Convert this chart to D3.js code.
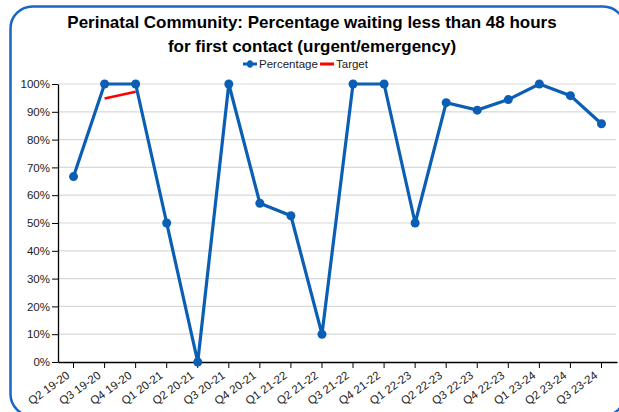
<!DOCTYPE html>
<html><head><meta charset="utf-8">
<script src="https://cdn.jsdelivr.net/npm/d3@7/dist/d3.min.js"></script>
<style>body{margin:0;background:#fff;}svg{display:block;font-family:"Liberation Sans",Arial,sans-serif;}</style>
</head><body><svg id="c" width="619" height="412"></svg>
<script>
const categories = ["Q2 19-20","Q3 19-20","Q4 19-20","Q1 20-21","Q2 20-21","Q3 20-21","Q4 20-21","Q1 21-22","Q2 21-22","Q3 21-22","Q4 21-22","Q1 22-23","Q2 22-23","Q3 22-23","Q4 22-23","Q1 23-24","Q2 23-24","Q3 23-24"];
const percentage = [66.7,100,100,50,0,100,57.1,52.6,10,100,100,50,93.3,90.6,94.4,100,95.8,85.7];
const target = [null,94.8,97.2,null,null,null,null,null,null,null,null,null,null,null,null,null,null,null];
const yTicks = [0,10,20,30,40,50,60,70,80,90,100];
const titleLines = ["Perinatal Community: Percentage waiting less than 48 hours","for first contact (urgent/emergency)"];

const svg = d3.select("#c");
const blue = "#0a5fb4", red = "#ff0000";
// border
svg.append("rect").attr("x",10.5).attr("y",6.5).attr("width",614.5).attr("height",409.5)
  .attr("rx",22).attr("fill","none").attr("stroke","#1a66c4").attr("stroke-width",2.5);

svg.append("g").selectAll("text").data(titleLines).join("text")
  .attr("x",312).attr("y",(d,i)=>28+i*24).attr("text-anchor","middle")
  .attr("font-size",17).attr("font-weight","bold").attr("fill","#000").text(d=>d);

const L = 58, R = 617, T = 84, B = 362;
const x = d3.scaleBand().domain(categories).range([L,R]);
const y = d3.scaleLinear().domain([0,100]).range([B,T]);
const cx = d => x(d)+x.bandwidth()/2;

// grid
svg.append("g").selectAll("line").data(yTicks.filter(t=>t>0)).join("line")
  .attr("x1",L).attr("x2",R-1).attr("y1",d=>y(d)).attr("y2",d=>y(d))
  .attr("stroke","#d9d9d9").attr("stroke-width",1.2);

// y axis
const ya = svg.append("g").attr("transform",`translate(${L},0)`)
  .call(d3.axisLeft(y).tickValues(yTicks).tickFormat(d=>d+"%").tickSize(6).tickSizeOuter(0));
ya.select(".domain").attr("stroke","#000").attr("stroke-width",1.3);
ya.selectAll(".tick line").attr("stroke","#000");
ya.selectAll("text").attr("font-size",11.5).attr("fill","#222").attr("font-family","Liberation Sans, Arial, sans-serif").attr("x",-8);

// x axis
const xa = svg.append("g").attr("transform",`translate(0,${B})`)
  .call(d3.axisBottom(x).tickSize(6).tickSizeOuter(0));
xa.select(".domain").attr("stroke","#000").attr("stroke-width",1.3);
xa.selectAll(".tick line").attr("stroke","#000");
xa.selectAll("text").attr("font-size",11.5).attr("fill","#222").attr("font-family","Liberation Sans, Arial, sans-serif")
  .attr("text-anchor","end").attr("dy",0).attr("y",0)
  .attr("transform","translate(-3,15) rotate(-36)");

// lines
const line = d3.line().defined(d=>d[1]!=null).x(d=>cx(d[0])).y(d=>y(d[1]));
svg.append("path").datum(categories.map((c,i)=>[c,target[i]])).attr("d",line)
  .attr("fill","none").attr("stroke",red).attr("stroke-width",2.5);
svg.append("path").datum(categories.map((c,i)=>[c,percentage[i]])).attr("d",line)
  .attr("fill","none").attr("stroke",blue).attr("stroke-width",3.2);
svg.append("g").selectAll("circle").data(categories.map((c,i)=>[c,percentage[i]])).join("circle")
  .attr("cx",d=>cx(d[0])).attr("cy",d=>y(d[1])).attr("r",4.5).attr("fill",blue);

// legend
const lg = svg.append("g").attr("font-size",11.5).attr("fill","#222");
lg.append("line").attr("x1",243).attr("x2",257).attr("y1",64).attr("y2",64).attr("stroke",blue).attr("stroke-width",3);
lg.append("ellipse").attr("cx",250).attr("cy",64).attr("rx",3).attr("ry",3.8).attr("fill",blue);
lg.append("text").attr("x",259).attr("y",68).text("Percentage");
lg.append("line").attr("x1",320).attr("x2",334).attr("y1",64).attr("y2",64).attr("stroke",red).attr("stroke-width",3);
lg.append("text").attr("x",336).attr("y",68).text("Target");
</script></body></html>
